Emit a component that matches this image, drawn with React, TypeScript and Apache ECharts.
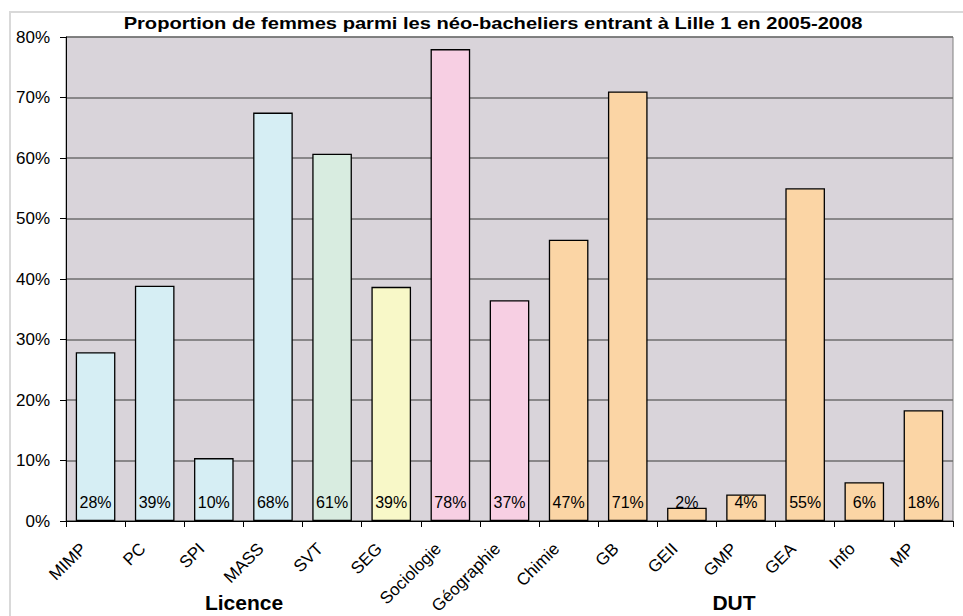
import React, { useEffect, useRef } from "react";
import * as echarts from "echarts";

const categories = ["MIMP", "PC", "SPI", "MASS", "SVT", "SEG", "Sociologie", "Géographie", "Chimie", "GB", "GEII", "GMP", "GEA", "Info", "MP"];
const values = [27.9, 38.9, 10.4, 67.5, 60.7, 38.7, 78.0, 36.5, 46.5, 71.0, 2.2, 4.4, 55.0, 6.4, 18.3];
const barColors = ["#D6EEF4", "#D6EEF4", "#D6EEF4", "#D6EEF4", "#D8ECE0", "#F8F8C8", "#F7CFE3", "#F7CFE3", "#FBD5A5", "#FBD5A5", "#FBD5A5", "#FBD5A5", "#FBD5A5", "#FBD5A5", "#FBD5A5"];
const groupLabels = ["Licence", "DUT"];
const titleText = "Proportion de femmes parmi les néo-bacheliers entrant à Lille 1 en 2005-2008";

export default function App() {
  const ref = useRef<HTMLDivElement>(null);
  useEffect(() => {
    if (!ref.current) return;
    const chart = echarts.init(ref.current, undefined, { renderer: "svg" });
    const font = "'Liberation Sans', Arial, sans-serif";
    chart.setOption({
      animation: false,
      backgroundColor: "#ffffff",
      textStyle: { fontFamily: font },
      grid: {
        left: 66,
        top: 37,
        right: 10,
        bottom: 95,
        containLabel: false,
        outerBoundsMode: "none",
        show: true,
        backgroundColor: "#D9D4DA",
        borderColor: "#808080",
        borderWidth: 1,
      },
      xAxis: {
        type: "category",
        data: categories,
        axisLine: { lineStyle: { color: "#000", width: 1 } },
        axisTick: { show: true, length: 6, lineStyle: { color: "#000" } },
        axisLabel: {
          rotate: 45,
          fontSize: 17,
          color: "#000",
          fontFamily: font,
          margin: 13,
          interval: 0,
          padding: [0, 17, 0, 0],
        },
      },
      yAxis: {
        type: "value",
        min: 0,
        max: 80,
        interval: 10,
        axisLine: { show: true, lineStyle: { color: "#000", width: 1 } },
        axisTick: { show: true, length: 6, lineStyle: { color: "#000" } },
        axisLabel: { formatter: "{value}%", fontSize: 17, color: "#000", fontFamily: font, margin: 16 },
        splitLine: { show: true, lineStyle: { color: "#6E6E6E", width: 1.5 } },
      },
      graphic: [
        {
          type: "rect",
          shape: { x: 10, y: 12, width: 1000, height: 700 },
          style: { fill: "none", stroke: "#D9D9D9", lineWidth: 2 },
          z: -1,
          silent: true,
        },
        {
          type: "text",
          x: 493,
          y: 23,
          scaleX: 1.227,
          scaleY: 1,
          style: {
            text: titleText,
            fontFamily: font,
            fontSize: 16.4,
            fontWeight: "bold",
            fill: "#000",
            align: "center",
            verticalAlign: "middle",
          },
        },
        {
          type: "text",
          x: 244,
          y: 613,
          style: { text: groupLabels[0], fontFamily: font, fontSize: 21, fontWeight: "bold", fill: "#000", align: "center", verticalAlign: "bottom" },
        },
        {
          type: "text",
          x: 734,
          y: 613,
          style: { text: groupLabels[1], fontFamily: font, fontSize: 21, fontWeight: "bold", fill: "#000", align: "center", verticalAlign: "bottom" },
        },
      ],
      series: [
        {
          type: "bar",
          data: values.map((v, i) => ({ value: v, itemStyle: { color: barColors[i] } })),
          barCategoryGap: "33%",
          itemStyle: { borderColor: "#000", borderWidth: 1.3 },
          label: {
            show: true,
            position: "insideBottom",
            distance: 11,
            fontSize: 16,
            color: "#000",
            fontFamily: font,
            formatter: (p: any) => Math.round(p.value) + "%",
          },
        },
      ],
    });
    return () => chart.dispose();
  }, []);
  return <div ref={ref} style={{ position: "fixed", left: 0, top: 0, width: 963, height: 616 }} />;
}
